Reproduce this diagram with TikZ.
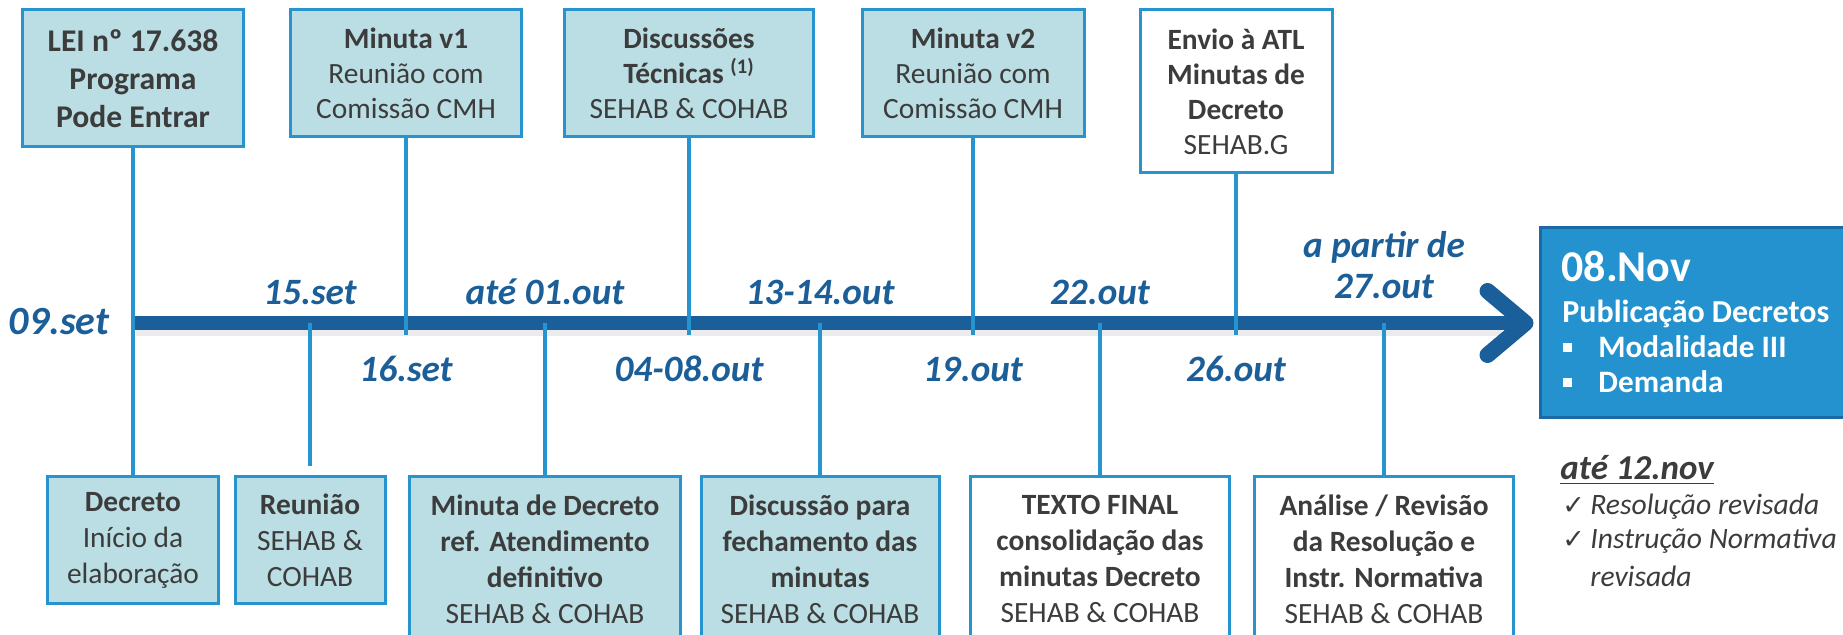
\documentclass[tikz,border=0pt]{standalone}
\usepackage{fontspec}
\setmainfont{Carlito}
\newfontfamily\symfont{DejaVu Sans}
\usepackage{xcolor}
\usetikzlibrary{calc}
\definecolor{boxfill}{HTML}{BADEE3}
\definecolor{boxline}{HTML}{2793CF}
\definecolor{axisblue}{HTML}{1A5F9A}
\definecolor{datetext}{HTML}{1B5E98}
\definecolor{txtgray}{HTML}{3C3C3C}
\definecolor{pubfill}{HTML}{2492CE}
\definecolor{publine}{HTML}{1C6AA5}
\tikzset{
  topbox/.style={draw=boxline, line width=1.5pt, fill=boxfill, align=center, inner sep=0pt,
    text=txtgray, font=\fontsize{14.7}{17.5}\selectfont},
  lowbox/.style={topbox, font=\fontsize{14.7}{18}\selectfont},
  whitebox/.style={fill=white},
  datelbl/.style={text=datetext, font=\fontsize{18.6}{20.5}\selectfont\bfseries\itshape, inner sep=0pt, anchor=base},
  conn/.style={draw=boxline, line width=2pt},
  axisline/.style={draw=axisblue, line width=7pt},
  chevron/.style={draw=axisblue, line width=8pt, line cap=round, line join=round},
  pubtxt/.style={text=white, inner sep=0pt, anchor=base west, font=\fontsize{15.6}{17}\selectfont\bfseries},
  note/.style={text=txtgray, inner sep=0pt, anchor=base west, font=\fontsize{14.8}{18}\selectfont\itshape},
}
\newcommand{\chk}{\makebox[14pt][l]{{\symfont\fontsize{13.5}{13.5}\selectfont ✓}}}
\newcommand{\sqbullet}{\makebox[17.5pt][l]{\raisebox{3pt}{\rule{4.5pt}{4.5pt}}}}

\begin{document}
\begin{tikzpicture}[x=0.5pt,y=-0.5pt]
  \useasboundingbox (0,0) rectangle (1843,635);
  \clip (0,0) rectangle (1843,635);

  % Boxes above the time line
  \node[topbox, minimum width=110.5pt, minimum height=68.5pt, font=\fontsize{15.8}{19}\selectfont\bfseries]
    (lei) at (133,78.5) {LEI nº 17.638\\Programa\\Pode Entrar};
  \node[topbox, minimum width=115.5pt, minimum height=63.5pt]
    (minv1) at (406,73.5) {\textbf{Minuta v1}\\Reunião com\\Comissão CMH};
  \node[topbox, minimum width=124.5pt, minimum height=63.5pt]
    (disc) at (689,73.5) {\textbf{Discussões}\\\textbf{Técnicas \textsuperscript{(1)}}\\SEHAB \& COHAB};
  \node[topbox, minimum width=111pt, minimum height=63.5pt]
    (minv2) at (973,73.5) {\textbf{Minuta v2}\\Reunião com\\Comissão CMH};
  \node[topbox, whitebox, minimum width=96pt, minimum height=81.5pt]
    (envio) at (1236,91.5) {\textbf{Envio à ATL}\\\textbf{Minutas de}\\\textbf{Decreto}\\SEHAB.G};

  % Boxes below the time line
  \node[lowbox, minimum width=85.5pt, minimum height=63.5pt]
    (decr) at (133,540.5) {\textbf{Decreto}\\Início da\\elaboração};
  \node[lowbox, minimum width=75pt, minimum height=63.5pt]
    (reun) at (310,540.5) {\textbf{Reunião}\\SEHAB \&\\COHAB};
  \node[lowbox, minimum width=135.5pt, minimum height=82pt]
    (mindec) at (545,559) {\textbf{Minuta de Decreto}\\\textbf{ref. Atendimento}\\\textbf{definitivo}\\SEHAB \& COHAB};
  \node[lowbox, minimum width=119pt, minimum height=82pt]
    (fech) at (820,559) {\textbf{Discussão para}\\\textbf{fechamento das}\\\textbf{minutas}\\SEHAB \& COHAB};
  \node[lowbox, whitebox, minimum width=129.5pt, minimum height=82pt]
    (final) at (1100,559) {\textbf{TEXTO FINAL}\\\textbf{consolidação das}\\\textbf{minutas Decreto}\\SEHAB \& COHAB};
  \node[lowbox, whitebox, minimum width=129.5pt, minimum height=82pt]
    (anal) at (1384,559) {\textbf{Análise / Revisão}\\\textbf{da Resolução e}\\\textbf{Instr. Normativa}\\SEHAB \& COHAB};

  % Publication box
  \node[draw=publine, line width=1.5pt, fill=pubfill, minimum width=156pt, minimum height=95pt, inner sep=0pt]
    (pub) at (1696,323) {};
  \node[pubtxt, font=\fontsize{22}{22}\selectfont\bfseries] (nov) at (1561,282) {08.Nov};
  \node[pubtxt, font=\fontsize{16}{16}\selectfont\bfseries] (pubdec) at (1562,323) {Publicação Decretos};
  \node[pubtxt] (modal) at (1563,358) {\sqbullet Modalidade III};
  \node[pubtxt] (dem) at (1563,393) {\sqbullet Demanda};

  % Time line
  \coordinate (t0) at (132,323);
  \coordinate (tip) at ($(pub.west)+(-13,0)$);
  \draw[line width=5pt, black!8] ($(t0)+(4,8)$) -- ($(tip)+(-24,8)$);
  \draw[axisline] (t0) -- (tip);
  \draw[chevron] ($(tip)+(-38,-32)$) -- (tip) -- ($(tip)+(-38,32)$);

  % Points on the time line
  \coordinate (a16) at (406,335);
  \coordinate (a04) at (689,335);
  \coordinate (a19) at (973,335);
  \coordinate (a26) at (1236,335);
  \coordinate (a15) at (310,323);
  \coordinate (a01) at (545,323);
  \coordinate (a13) at (820,323);
  \coordinate (a22) at (1100,323);
  \coordinate (a27) at (1384,323);

  % Lines
  \draw[conn] (lei) -- (decr);
  \draw[conn] (minv1) -- (a16);
  \draw[conn] (disc) -- (a04);
  \draw[conn] (minv2) -- (a19);
  \draw[conn] (envio) -- (a26);
  \draw[conn, shorten >=4.5pt] (a15) -- (reun);
  \draw[conn] (a01) -- (mindec);
  \draw[conn] (a13) -- (fech);
  \draw[conn] (a22) -- (final);
  \draw[conn] (a27) -- (anal);

  % Dates
  \node[datelbl, font=\fontsize{20}{20}\selectfont\bfseries\itshape] (d09) at (59,335) {09.set};
  \node[datelbl] (d15) at (310,305) {15.set};
  \node[datelbl] (d16) at (406,382) {16.set};
  \node[datelbl] (d01) at (545,305) {até 01.out};
  \node[datelbl] (d04) at (689,382) {04-08.out};
  \node[datelbl] (d13) at (820,305) {13-14.out};
  \node[datelbl] (d19) at (973,382) {19.out};
  \node[datelbl] (d22) at (1100,305) {22.out};
  \node[datelbl] (d26) at (1236,382) {26.out};
  \node[datelbl] (dpart) at (1384,258) {a partir de};
  \node[datelbl] (d27) at (1384,299) {27.out};

  % Notes
  \node[note, font=\fontsize{17.5}{18}\selectfont\bfseries\itshape] (ate12) at (1560,480) {\underline{até 12.nov}};
  \node[note] (resol) at (1562,515) {\chk Resolução revisada};
  \node[note] (instr) at (1562,549) {\chk Instrução Normativa};
  \node[note] (revis) at (1590,587) {revisada};
\end{tikzpicture}
\end{document}
